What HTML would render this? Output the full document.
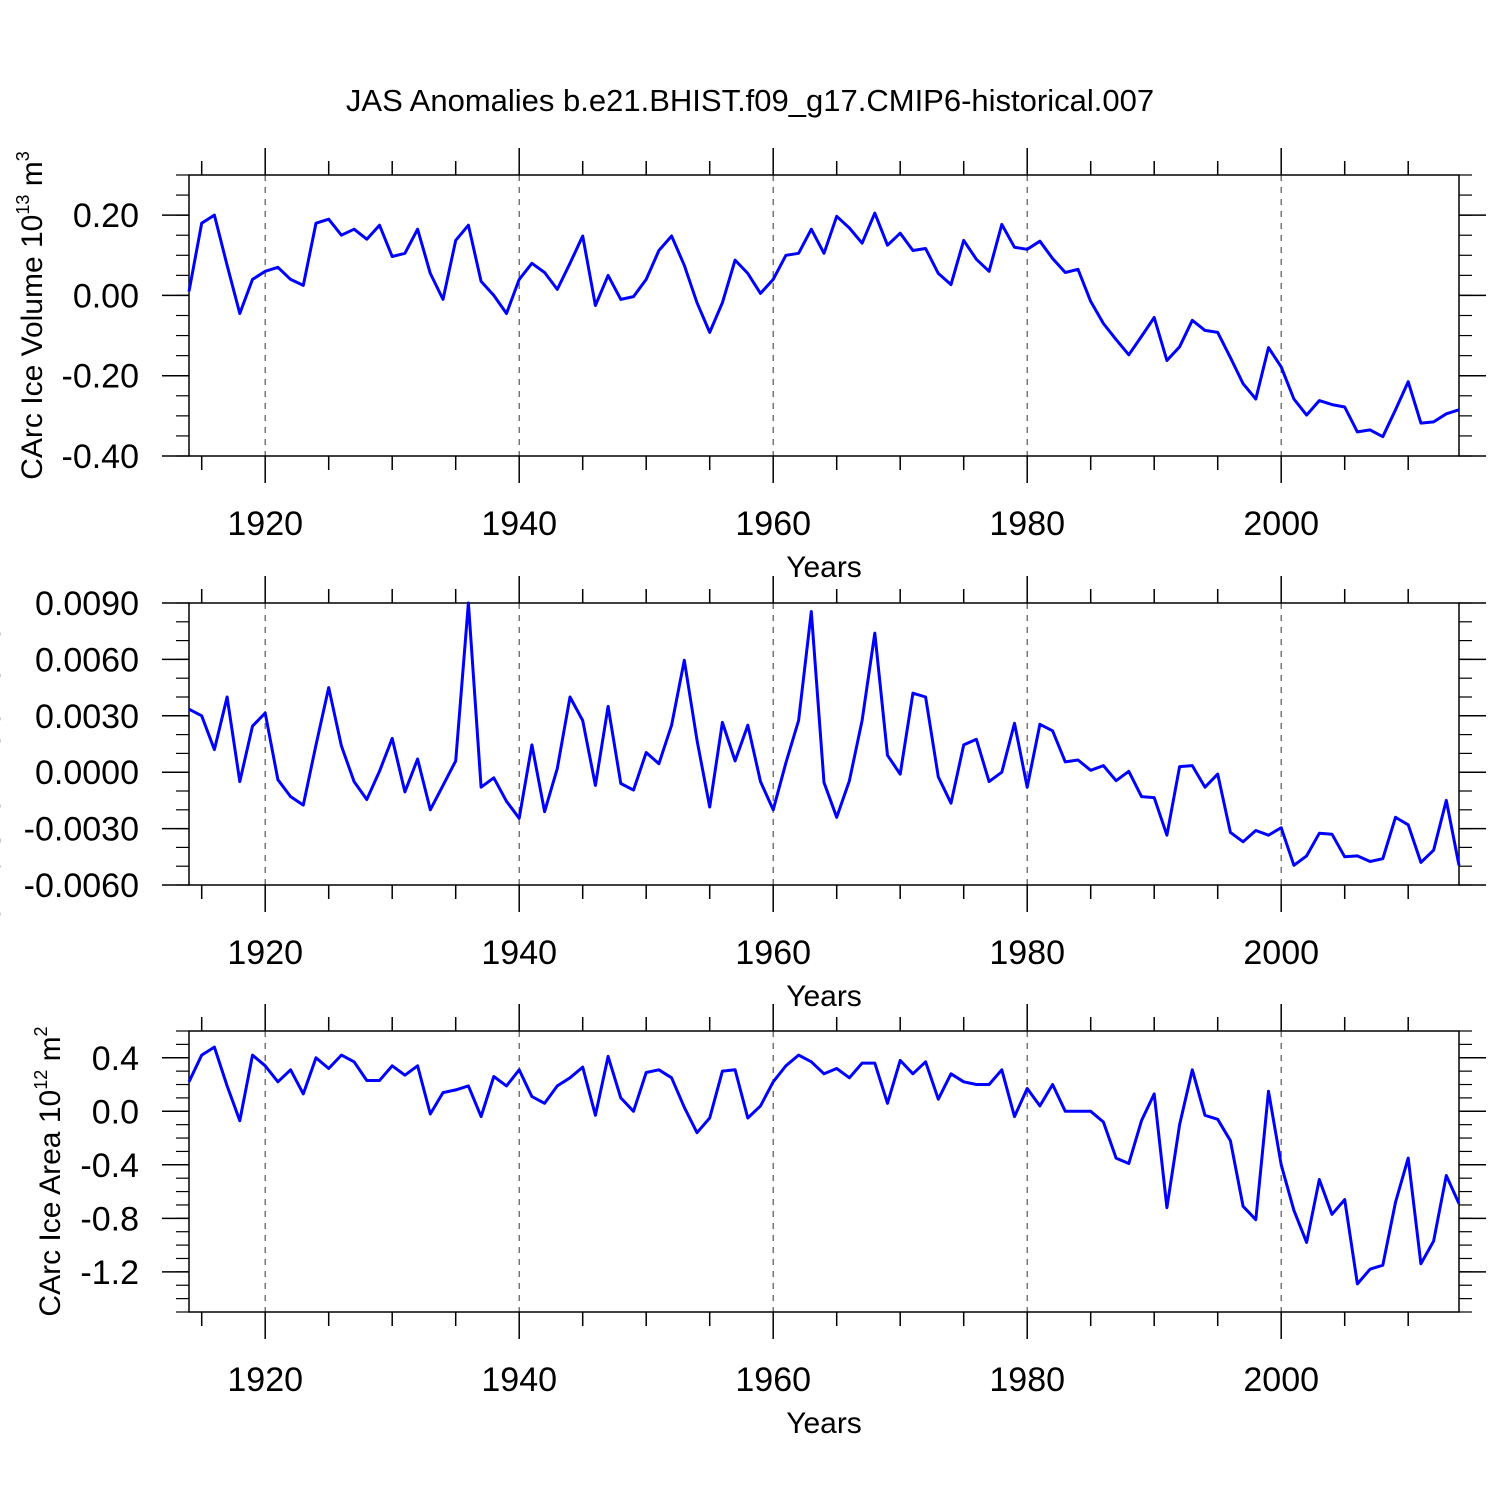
<!DOCTYPE html>
<html><head><meta charset="utf-8"><style>body{margin:0;background:#fff}svg{display:block}</style></head>
<body>
<svg id="chart" width="1500" height="1500" xmlns="http://www.w3.org/2000/svg" font-family="Liberation Sans, sans-serif">
<rect width="1500" height="1500" fill="#fff"/>
<text x="750" y="111" font-size="31" text-anchor="middle">JAS Anomalies b.e21.BHIST.f09_g17.CMIP6-historical.007</text>
</svg>
<script>
const years = []; for (let y = 1914; y <= 2014; y++) years.push(y);
const iceVolume = [0.01,0.18,0.20,0.075,-0.045,0.04,0.06,0.07,0.04,0.025,0.18,0.19,0.15,0.165,0.14,0.175,0.097,0.105,0.165,0.055,-0.01,0.137,0.175,0.035,0.0,-0.045,0.04,0.08,0.057,0.015,0.08,0.148,-0.025,0.05,-0.01,-0.003,0.04,0.112,0.148,0.075,-0.018,-0.092,-0.018,0.088,0.055,0.005,0.04,0.10,0.105,0.165,0.105,0.197,0.168,0.13,0.205,0.125,0.155,0.112,0.117,0.055,0.027,0.137,0.09,0.06,0.177,0.12,0.115,0.135,0.092,0.057,0.065,-0.015,-0.07,-0.11,-0.148,-0.102,-0.055,-0.162,-0.128,-0.062,-0.087,-0.092,-0.155,-0.22,-0.258,-0.13,-0.178,-0.258,-0.298,-0.262,-0.272,-0.278,-0.34,-0.335,-0.352,-0.285,-0.215,-0.318,-0.315,-0.295,-0.285];
const snowVolume = [3.35,3.0,1.2,4.0,-0.5,2.45,3.15,-0.4,-1.3,-1.75,1.45,4.5,1.4,-0.5,-1.45,0.05,1.8,-1.05,0.7,-2.0,-0.7,0.6,9.0,-0.8,-0.3,-1.55,-2.45,1.45,-2.1,0.2,4.0,2.75,-0.7,3.5,-0.6,-0.95,1.05,0.45,2.5,5.95,1.7,-1.85,2.65,0.6,2.5,-0.5,-2.0,0.5,2.75,8.55,-0.55,-2.4,-0.45,2.75,7.4,0.9,-0.1,4.2,4.0,-0.25,-1.65,1.45,1.75,-0.5,0.0,2.6,-0.8,2.55,2.2,0.55,0.65,0.1,0.35,-0.45,0.05,-1.3,-1.35,-3.35,0.3,0.35,-0.8,-0.1,-3.2,-3.7,-3.1,-3.35,-2.95,-4.95,-4.45,-3.25,-3.3,-4.5,-4.45,-4.75,-4.6,-2.4,-2.8,-4.8,-4.15,-1.5,-4.95].map(v => v / 1000);
const iceArea = [0.22,0.42,0.48,0.19,-0.07,0.42,0.34,0.22,0.31,0.13,0.40,0.32,0.42,0.37,0.23,0.23,0.34,0.27,0.34,-0.02,0.14,0.16,0.19,-0.04,0.26,0.19,0.31,0.11,0.06,0.19,0.25,0.33,-0.03,0.41,0.10,0.0,0.29,0.31,0.25,0.03,-0.16,-0.05,0.30,0.31,-0.05,0.04,0.22,0.34,0.42,0.37,0.28,0.32,0.25,0.36,0.36,0.06,0.38,0.28,0.37,0.09,0.28,0.22,0.20,0.20,0.31,-0.04,0.17,0.04,0.20,0.0,0.0,0.0,-0.08,-0.35,-0.39,-0.07,0.13,-0.72,-0.10,0.31,-0.03,-0.06,-0.22,-0.71,-0.81,0.15,-0.40,-0.74,-0.98,-0.51,-0.77,-0.66,-1.29,-1.18,-1.15,-0.68,-0.35,-1.14,-0.97,-0.48,-0.69];
const xTickLabels = ["1920","1940","1960","1980","2000"];
const volTicks = ["0.20","0.00","-0.20","-0.40"];
const snowTicks = ["0.0090","0.0060","0.0030","0.0000","-0.0030","-0.0060"];
const areaTicks = ["0.4","0.0","-0.4","-0.8","-1.2"];

const svg = document.getElementById('chart');
const NS = 'http://www.w3.org/2000/svg';
function mk(tag, attrs, parent) { const e = document.createElementNS(NS, tag); for (const k in attrs) e.setAttribute(k, attrs[k]); (parent || svg).appendChild(e); return e; }
const X0 = 189, X1 = 1459;
const xScale = y => X0 + (y - 1914) / 100 * (X1 - X0);

const panels = [
 {name:'ice-volume', top:175, bot:456, ymin:-0.40, ymax:0.30, data:iceVolume, ticks:volTicks, minor:0.05, label:['CArc Ice Volume 10','13',' m','3'], labelX:42},
 {name:'snow-volume', top:603, bot:885, ymin:-0.006, ymax:0.009, data:snowVolume, ticks:snowTicks, minor:0.001, label:['CArc Snow Volume 10','13',' m','3'], labelX:0},
 {name:'ice-area', top:1031, bot:1312, ymin:-1.5, ymax:0.6, data:iceArea, ticks:areaTicks, minor:0.1, label:['CArc Ice Area 10','12',' m','2'], labelX:60}
];
panels.forEach(p => {
  const g = mk('g', {});
  
  
  const yS = v => p.bot - (v - p.ymin) / (p.ymax - p.ymin) * (p.bot - p.top);
  for (let yr = 1915; yr <= 2010; yr += 5) {
    const x = xScale(yr), major = yr % 20 === 0;
    const len = major ? 27 : 14;
    mk('line', {x1:x, x2:x, y1:p.top - len, y2:p.top, stroke:'#000', 'stroke-width':1.5}, g);
    mk('line', {x1:x, x2:x, y1:p.bot, y2:p.bot + len, stroke:'#000', 'stroke-width':1.5}, g);
    if (major) mk('line', {x1:x, x2:x, y1:p.top, y2:p.bot, stroke:'#555', 'stroke-width':1.2, 'stroke-dasharray':'6,6'}, g);
  }
  xTickLabels.forEach(t => {
    const tx = mk('text', {x:xScale(+t), y:p.bot + 79, 'font-size':34, 'text-anchor':'middle'}, g);
    
    
    tx.textContent = t;
  });
  const xt = mk('text', {x:824, y:p.bot + 121, 'font-size':30, 'text-anchor':'middle'}, g);
  
  
  xt.textContent = 'Years';
  const nMin = Math.round((p.ymax - p.ymin) / p.minor);
  for (let i = 0; i <= nMin; i++) {
    const v = p.ymin + i * p.minor, y = yS(v);
    mk('line', {x1:X0 - 13, x2:X0, y1:y, y2:y, stroke:'#000', 'stroke-width':1.2}, g);
    mk('line', {x1:X1, x2:X1 + 13, y1:y, y2:y, stroke:'#000', 'stroke-width':1.2}, g);
  }
  p.ticks.forEach(t => {
    const y = yS(+t);
    mk('line', {x1:X0 - 27, x2:X0, y1:y, y2:y, stroke:'#000', 'stroke-width':1.5}, g);
    mk('line', {x1:X1, x2:X1 + 27, y1:y, y2:y, stroke:'#000', 'stroke-width':1.5}, g);
    const tx = mk('text', {x:X0 - 50, y:y + 12, 'font-size':34, 'text-anchor':'end'}, g);
    
    
    tx.textContent = t;
  });
  mk('rect', {x:X0, y:p.top, width:X1 - X0, height:p.bot - p.top, fill:'none', stroke:'#000', 'stroke-width':1.5}, g);
  const pts = p.data.map((v, i) => xScale(years[i]).toFixed(1) + ',' + yS(v).toFixed(1)).join(' ');
  const line = mk('polyline', {points:pts, fill:'none', stroke:'#0000ff', 'stroke-width':3, 'stroke-linejoin':'round'}, g);
  
  
  const cy = (p.top + p.bot) / 2;
  const yl = mk('text', {x:0, y:0, 'font-size':30, 'text-anchor':'middle', transform:'translate(' + p.labelX + ',' + cy + ') rotate(-90)'}, g);
  
  
  const parts = p.label;
  const s1 = mk('tspan', {}, yl); s1.textContent = parts[0];
  const s2 = mk('tspan', {'font-size':18, dy:-13}, yl); s2.textContent = parts[1];
  const s3 = mk('tspan', {dy:13}, yl); s3.textContent = parts[2];
  const s4 = mk('tspan', {'font-size':18, dy:-13}, yl); s4.textContent = parts[3];
});
</script>
</body></html>
